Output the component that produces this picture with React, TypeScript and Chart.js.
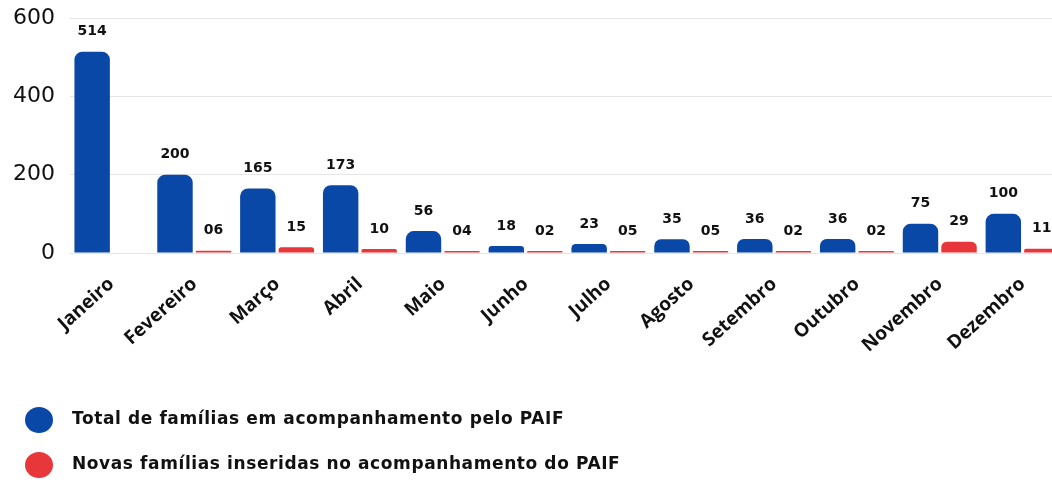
import React, { useEffect, useRef } from "react";
import { Chart, registerables } from "chart.js";

Chart.register(...registerables);

const months = [
  "Janeiro", "Fevereiro", "Março", "Abril", "Maio", "Junho",
  "Julho", "Agosto", "Setembro", "Outubro", "Novembro", "Dezembro",
];
const totalFamilias = [514, 200, 165, 173, 56, 18, 23, 35, 36, 36, 75, 100];
const novasFamilias = [null, 6, 15, 10, 4, 2, 5, 5, 2, 2, 29, 11];
const yTickValues = [0, 200, 400, 600];
const seriesNames = [
  "Total de famílias em acompanhamento pelo PAIF",
  "Novas famílias inseridas no acompanhamento do PAIF",
];
const BLUE = "#0a48a8";
const RED = "#e8373a";

const valueLabels = {
  id: "valueLabels",
  afterDatasetsDraw(chart: any) {
    const ctx = chart.ctx;
    ctx.save();
    ctx.font = "bold 14px 'DejaVu Sans'";
    ctx.fillStyle = "#111";
    ctx.textAlign = "center";
    ctx.textBaseline = "middle";
    chart.data.datasets.forEach((ds: any, di: number) => {
      const meta = chart.getDatasetMeta(di);
      meta.data.forEach((el: any, i: number) => {
        const v = ds.data[i];
        if (v === null || v === undefined) return;
        const txt = di === 1 ? String(v).padStart(2, "0") : String(v);
        ctx.fillText(txt, el.x, el.y - 20);
      });
    });
    ctx.restore();
  },
};

const bottomLegend = {
  id: "bottomLegend",
  afterDraw(chart: any) {
    const ctx = chart.ctx;
    ctx.save();
    const rows = [420, 465];
    chart.data.datasets.forEach((ds: any, di: number) => {
      const y = rows[di];
      ctx.beginPath();
      ctx.fillStyle = ds.backgroundColor;
      ctx.ellipse(39, y, 14, 13, 0, 0, Math.PI * 2);
      ctx.fill();
      ctx.fillStyle = "#111";
      ctx.font = "bold 17px 'DejaVu Sans'";
      try { (ctx as any).letterSpacing = "0.6px"; } catch (e) {}
      ctx.textAlign = "left";
      ctx.textBaseline = "middle";
      ctx.fillText(ds.label, 72, y);
      try { (ctx as any).letterSpacing = "0px"; } catch (e) {}
    });
    ctx.restore();
  },
};

export default function App() {
  const ref = useRef<HTMLCanvasElement | null>(null);
  useEffect(() => {
    if (!ref.current) return;
    const chart = new Chart(ref.current, {
      type: "bar",
      data: {
        labels: months,
        datasets: [
          {
            label: seriesNames[0],
            data: totalFamilias,
            backgroundColor: BLUE,
            borderRadius: { topLeft: 8, topRight: 8, bottomLeft: 0, bottomRight: 0 },
            borderSkipped: false,
            categoryPercentage: 0.93,
            barPercentage: 0.92,
          },
          {
            label: seriesNames[1],
            data: novasFamilias as any,
            backgroundColor: RED,
            borderRadius: { topLeft: 8, topRight: 8, bottomLeft: 0, bottomRight: 0 },
            borderSkipped: false,
            categoryPercentage: 0.93,
            barPercentage: 0.92,
            minBarLength: 2,
          },
        ],
      },
      options: {
        responsive: false,
        animation: false,
        devicePixelRatio: 1,
        layout: { padding: { top: 18, right: 0, bottom: 0, left: 0 } },
        plugins: {
          legend: { display: false },
          tooltip: { enabled: false },
        },
        scales: {
          x: {
            grid: { display: false },
            border: { display: false },
            ticks: {
              color: "#111",
              font: { family: "'Open Sans'", size: 19, weight: "bold" },
              maxRotation: 42,
              minRotation: 42,
              padding: 12,
              autoSkip: false,
            },
            afterFit(scale: any) {
              scale.height = 233;
            },
          },
          y: {
            min: 0,
            max: 600,
            grid: { color: "#e6e6e6", drawTicks: false },
            border: { display: false },
            ticks: {
              stepSize: 200,
              color: "#111",
              padding: 15,
              font: { family: "'DejaVu Sans'", size: 22 },
              callback: (v: any) => (yTickValues.includes(Number(v)) ? String(v) : ""),
            },
            afterFit(scale: any) {
              scale.width = 70;
              scale.paddingTop = 0;
              scale.paddingBottom = 0;
            },
          },
        },
      },
      plugins: [valueLabels, bottomLegend],
    });
    return () => chart.destroy();
  }, []);
  return (
    <div
      style={{
        position: "absolute",
        left: 0,
        top: 0,
        width: 1052,
        height: 486,
        overflow: "hidden",
        background: "#fff",
      }}
    >
      <canvas ref={ref} width={1064} height={486} style={{ display: "block" }} />
    </div>
  );
}
